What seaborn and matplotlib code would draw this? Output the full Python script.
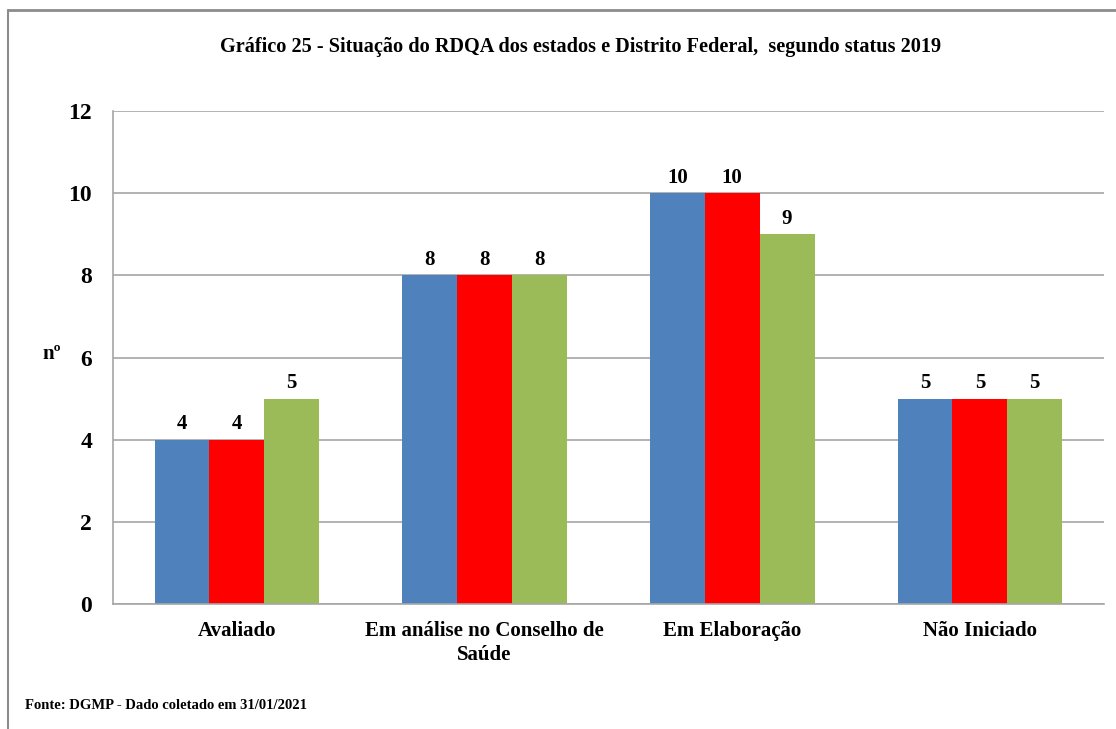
import pandas as pd
import matplotlib.pyplot as plt
import seaborn as sns
from matplotlib.lines import Line2D

# Data
categorias = ["Avaliado", "Em análise no Conselho de\nSaúde", "Em Elaboração", "Não Iniciado"]
serie_1 = [4, 8, 10, 5]
serie_2 = [4, 8, 10, 5]
serie_3 = [5, 8, 9, 5]
series = ["Série 1", "Série 2", "Série 3"]
cores = ["#4F81BD", "#FF0000", "#9BBB59"]

df = pd.DataFrame({
    "Categoria": categorias * 3,
    "Serie": [s for s in series for _ in categorias],
    "Valor": serie_1 + serie_2 + serie_3,
})

sns.set_style("white")
plt.rcParams["font.family"] = ["Liberation Serif", "DejaVu Serif"]
plt.rcParams["font.weight"] = "bold"
plt.rcParams["text.color"] = "black"
plt.rcParams["xtick.color"] = "black"
plt.rcParams["ytick.color"] = "black"
plt.rcParams["axes.labelcolor"] = "black"

fig = plt.figure(figsize=(11.16, 7.29), dpi=100)
ax = fig.add_axes([0.1013, 0.1715, 0.8877, 0.6762])

sns.barplot(
    data=df, x="Categoria", y="Valor", hue="Serie",
    palette=cores, width=0.665, saturation=1, legend=False,
    linewidth=0, ax=ax
)

for c in ax.containers:
    ax.bar_label(c, fontsize=15, fontweight="bold", padding=4)

ax.set_ylim(0, 12)
ax.set_xlim(-0.5, 3.5)
ax.set_yticks(range(0, 13, 2))
ax.yaxis.grid(True, color="#A6A6A6", linewidth=1.2)
ax.set_axisbelow(True)

ax.set_xticks(range(len(categorias)))
ax.set_xticklabels(categorias, fontsize=15, fontweight="bold", linespacing=1.3)
ax.set_xticks([-0.5, 0.5, 1.5, 2.5, 3.5], minor=True)
ax.tick_params(axis="x", which="major", length=0, pad=12)
ax.tick_params(axis="x", which="minor", length=5, color="#A6A6A6", direction="out")
ax.tick_params(axis="y", length=6, color="#A6A6A6", labelcolor="black", labelsize=17, pad=9, direction="out")
for lbl in ax.get_yticklabels():
    lbl.set_fontweight("bold")

for s in ["top", "right"]:
    ax.spines[s].set_visible(False)
for s in ["left", "bottom"]:
    ax.spines[s].set_color("#A6A6A6")
    ax.spines[s].set_linewidth(1.2)

ax.set_xlabel("")
ax.set_ylabel("nº", fontsize=15, fontweight="bold", rotation=0)
ax.yaxis.set_label_coords(-0.062, 0.487)

fig.text(0.52, 0.936, "Gráfico 25 - Situação do RDQA dos estados e Distrito Federal,  segundo status 2019",
         ha="center", va="center", fontsize=14.6, fontweight="bold")
fig.text(0.022, 0.032, "Fonte: DGMP - Dado coletado em 31/01/2021",
         ha="left", va="center", fontsize=10.5, fontweight="bold")

# moldura do gráfico
fig.add_artist(Line2D([0.0075, 1.0], [0.9866, 0.9866], color="#8C8C8C", linewidth=2))
fig.add_artist(Line2D([0.0075, 0.0075], [0.0, 0.9866], color="#8C8C8C", linewidth=1.5))

plt.savefig("out.png", dpi=100)
